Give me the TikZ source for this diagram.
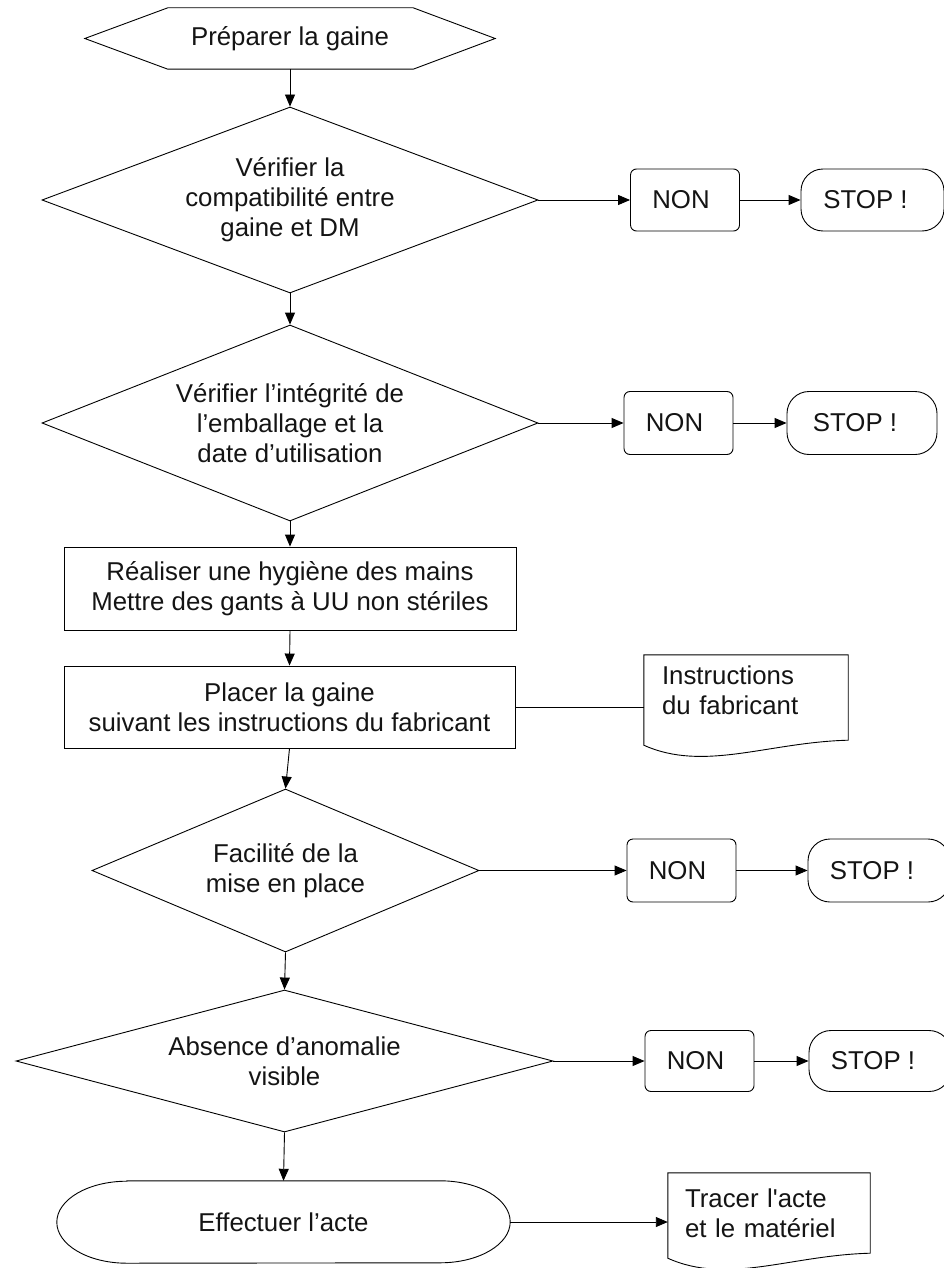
\documentclass[tikz,border=0pt]{standalone}
\usepackage{fontspec}
\setmainfont{Liberation Sans}
\usetikzlibrary{shapes.geometric,arrows.meta,calc}
\newcommand{\stoptxt}{\hspace*{-14pt}STOP !}
\newcommand{\nontxt}{\hspace*{-8pt}NON}
\begin{document}
\begin{tikzpicture}[x=1pt,y=-1pt,
  every node/.style={font=\fontsize{25.8}{30}\selectfont, text=black!92, inner sep=0pt},
  ln/.style={draw=black, line width=0.9pt},
  arr/.style={ln, -{Triangle[length=12pt,width=10pt]}},
  dec/.style={shape=diamond, ln, align=center},
  plainbox/.style={shape=rectangle, ln, align=center},
  nonbox/.style={shape=rectangle, ln, rounded corners=6pt, minimum width=109pt, minimum height=62pt},
  stopbox/.style={shape=rectangle, ln, rounded corners=22pt, minimum height=62pt},
  docbox/.style={shape=rectangle, align=left, text width=168pt},
]
\clip (0,0) rectangle (944,1268);
\fill[white] (0,0) rectangle (944,1268);

% start hexagon
\node[minimum width=410pt, minimum height=61pt] (prep) at (290,38.5) {Préparer la gaine};
\draw[ln] (prep.west) -- ($(prep.north west)+(83,0)$) -- ($(prep.north east)+(-82,0)$) -- (prep.east)
  -- ($(prep.south east)+(-82,0)$) -- ($(prep.south west)+(83,0)$) -- cycle;

% row 1
\node[dec, minimum width=496pt, minimum height=186pt, shape aspect=2.65] (d1) at (290,200)
  {Vérifier la\\compatibilité entre\\gaine et DM};
\node[nonbox] (n1) at (685,200) {\nontxt};
\node[stopbox, minimum width=143pt] (s1) at (872.5,200) {\stoptxt};

% row 2
\node[dec, minimum width=496pt, minimum height=196pt, shape aspect=2.5] (d2) at (290,423)
  {Vérifier l’intégrité de\\l’emballage et la\\date d’utilisation};
\node[nonbox, minimum height=63pt] (n2) at (678.5,423) {\nontxt};
\node[stopbox, minimum width=150pt, minimum height=63pt] (s2) at (862,423) {\stoptxt};

% boxes
\node[plainbox, minimum width=452pt, minimum height=83pt] (r1) at (290,588.5)
  {Réaliser une hygiène des mains\\Mettre des gants à UU non stériles};
\node[plainbox, minimum width=451pt, minimum height=82pt] (r2) at (289.5,707)
  {Placer la gaine\\suivant les instructions du fabricant};

% document 1
\node[docbox, minimum width=204pt, minimum height=70pt] (doc1) at (746,690) {Instructions\\du fabricant};
\draw[ln] (doc1.north west) -- (doc1.north east) -- ($(doc1.south east)+(0,15)$)
  .. controls ($(doc1.south east)+(-80,17)$) and ($(doc1.south west)+(60,47)$) .. ($(doc1.south west)+(0,20)$)
  -- cycle;

% row 3
\node[dec, minimum width=387pt, minimum height=163pt, shape aspect=2.37] (d3) at (285.5,870.5)
  {Facilité de la\\mise en place};
\node[nonbox, minimum height=63pt] (n3) at (681.5,870.5) {\nontxt};
\node[stopbox, minimum width=142pt, minimum height=63pt] (s3) at (879,870.5) {\stoptxt};

% row 4
\node[dec, minimum width=537pt, minimum height=142pt, shape aspect=3.78] (d4) at (284.5,1061)
  {Absence d’anomalie\\visible};
\node[nonbox, minimum height=61pt] (n4) at (699.5,1061) {\nontxt};
\node[stopbox, minimum width=142pt, minimum height=61pt] (s4) at (880,1061) {\stoptxt};

% terminator
\node[minimum width=453pt, minimum height=82pt] (term) at (283.5,1222) {Effectuer l’acte};
\draw[ln] ($(term.north west)+(70,0)$) -- ($(term.north east)+(-70,0)$)
  arc[start angle=-90, end angle=90, x radius=70, y radius=41]
  -- ($(term.south west)+(70,0)$)
  arc[start angle=90, end angle=270, x radius=70, y radius=41] -- cycle;

% document 2
\node[docbox, minimum width=202pt, minimum height=80pt] (doc2) at (769,1213) {Tracer l\textquotesingle acte\\et le matériel};
\draw[ln] (doc2.north west) -- (doc2.north east) -- (doc2.south east)
  .. controls ($(doc2.south east)+(-80,2)$) and ($(doc2.south west)+(60,32)$) .. ($(doc2.south west)+(0,5)$)
  -- cycle;

% connectors
\draw[arr] (prep.south) -- (d1.north);
\draw[arr] (d1.south) -- (d2.north);
\draw[arr] (d2.south) -- (r1.north);
\draw[arr] (r1.south) -- (r2.north);
\draw[arr] (r2.south) -- (d3.north);
\draw[arr] (d3.south) -- (d4.north);
\draw[arr] (d4.south) -- (term.north);
\draw[ln] (r2.east) -- (r2.east -| doc1.west);
\draw[arr] (term.east) -- (term.east -| doc2.west);
\draw[arr] (d1.east) -- (n1.west);
\draw[arr] (n1.east) -- (s1.west);
\draw[arr] (d2.east) -- (n2.west);
\draw[arr] (n2.east) -- (s2.west);
\draw[arr] (d3.east) -- (n3.west);
\draw[arr] (n3.east) -- (s3.west);
\draw[arr] (d4.east) -- (n4.west);
\draw[arr] (n4.east) -- (s4.west);
\end{tikzpicture}
\end{document}
